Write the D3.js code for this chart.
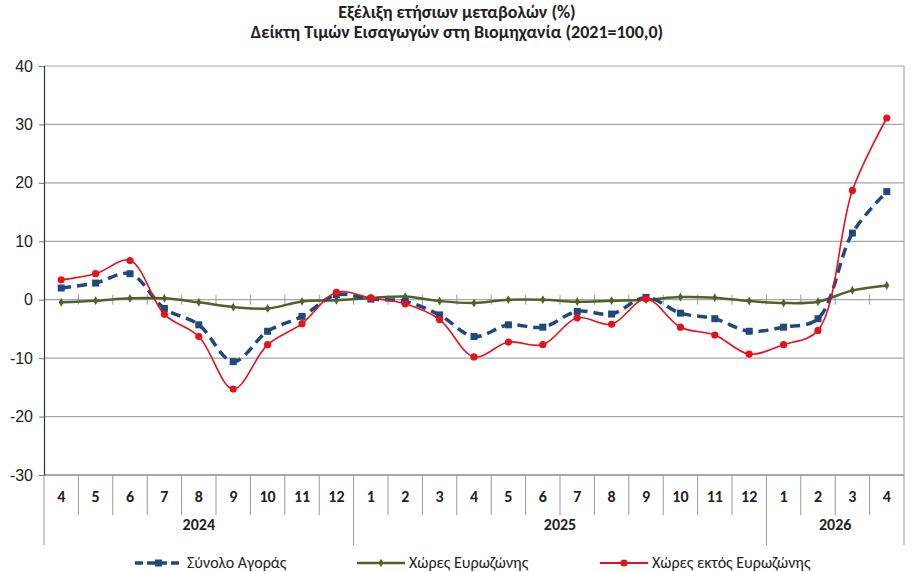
<!DOCTYPE html>
<html>
<head>
<meta charset="utf-8">
<script src="https://cdn.jsdelivr.net/npm/d3@7"></script>
<style>
  body { margin: 0; background: #fff; }
  svg { display: block; font-family: Carlito, "Liberation Sans Narrow", "Open Sans", sans-serif; }
</style>
</head>
<body>
<div id="chart"></div>
<script>
// months shown on the category axis (April 2024 .. April 2026)
const months = ["4","5","6","7","8","9","10","11","12","1","2","3","4","5","6","7","8","9","10","11","12","1","2","3","4"];
const years = [
    {label: "2024", from: 0, to: 9},
    {label: "2025", from: 9, to: 21},
    {label: "2026", from: 21, to: 25}
];
const yTicks = [40, 30, 20, 10, 0, -10, -20, -30];

const total = [2.0, 2.85, 4.45, -1.5, -4.3, -10.6, -5.4, -2.85, 0.85, 0.1, -0.3, -2.6, -6.3, -4.3, -4.7, -2.0, -2.45, 0.4, -2.3, -3.25, -5.4, -4.7, -3.25, 11.4, 18.5];
const euro = [-0.45, -0.17, 0.23, 0.23, -0.45, -1.25, -1.5, -0.3, -0.1, 0.3, 0.55, -0.23, -0.57, 0.0, 0.0, -0.34, -0.17, 0.0, 0.45, 0.34, -0.23, -0.57, -0.34, 1.6, 2.45];
const nonEuro = [3.4, 4.45, 6.7, -2.5, -6.3, -15.3, -7.7, -4.1, 1.25, 0.3, -0.7, -3.4, -9.8, -7.25, -7.7, -3.1, -4.2, 0.15, -4.7, -6.05, -9.3, -7.7, -5.25, 18.7, 31.1];

const seriesNames = ["Σύνολο Αγοράς", "Χώρες Ευρωζώνης", "Χώρες εκτός Ευρωζώνης"];

const W = 914, H = 572;
const margin = {top: 66, left: 44, right: 10, bottom: 97};
const width = W - margin.left - margin.right,
      height = H - margin.top - margin.bottom;

const svg = d3.select("#chart").append("svg")
    .attr("width", W)
    .attr("height", H);

// Title
svg.append("text")
    .attr("x", 457).attr("y", 18)
    .attr("text-anchor", "middle")
    .attr("font-size", "18px").attr("font-weight", "bold").attr("fill", "#222")
    .text("Εξέλιξη ετήσιων μεταβολών (%)");
svg.append("text")
    .attr("x", 457).attr("y", 38)
    .attr("text-anchor", "middle")
    .attr("font-size", "18px").attr("font-weight", "bold").attr("fill", "#222")
    .text("Δείκτη Τιμών Εισαγωγών στη Βιομηχανία (2021=100,0)");

const g = svg.append("g").attr("transform", `translate(${margin.left},${margin.top})`);

const x = d3.scaleBand().domain(d3.range(months.length)).range([0, width]);
const y = d3.scaleLinear().domain([-30, 40]).range([height, 0]);
const cx = i => x(i) + x.bandwidth() / 2;

// gridlines
g.append("g")
    .selectAll("line").data(yTicks).join("line")
    .attr("x1", 0).attr("x2", width)
    .attr("y1", d => y(d)).attr("y2", d => y(d))
    .attr("stroke", d => d === -30 ? "#555" : "#a6a6a6")
    .attr("stroke-width", 1.2);

// right border
g.append("line")
    .attr("x1", width).attr("x2", width).attr("y1", 0).attr("y2", height)
    .attr("stroke", "#a6a6a6").attr("stroke-width", 1.2);

// y axis
const yAxis = g.append("g")
    .call(d3.axisLeft(y).tickValues(yTicks).tickSize(5).tickPadding(6).tickFormat(d => String(d)));
yAxis.select(".domain").attr("stroke", "#333").attr("stroke-width", 1.2);
yAxis.selectAll(".tick line").attr("stroke", "#777");
yAxis.selectAll("text").attr("font-size", "16px").attr("fill", "#222").attr("font-family", "inherit");

// tick marks on the zero line, between categories
g.append("g")
    .selectAll("line").data(d3.range(1, months.length)).join("line")
    .attr("x1", d => x(d)).attr("x2", d => x(d))
    .attr("y1", y(0) - 5).attr("y2", y(0) + 5)
    .attr("stroke", "#999");

// category axis: months
const edge = i => i >= months.length ? width : x(i);
const catG = g.append("g").attr("transform", `translate(0,${height})`);
catG.selectAll("line.sep").data(d3.range(0, months.length + 1)).join("line")
    .attr("class", "sep")
    .attr("x1", d => edge(d)).attr("x2", d => edge(d))
    .attr("y1", 0).attr("y2", 40)
    .attr("stroke", "#999");
catG.selectAll("text.m").data(months).join("text")
    .attr("class", "m")
    .attr("x", (d, i) => cx(i)).attr("y", 27)
    .attr("text-anchor", "middle")
    .attr("font-size", "16px").attr("font-weight", "bold").attr("fill", "#222")
    .text(d => d);

// years row
catG.selectAll("line.ysep").data(years.map(d => d.from).concat([months.length])).join("line")
    .attr("class", "ysep")
    .attr("x1", d => edge(d)).attr("x2", d => edge(d))
    .attr("y1", 40).attr("y2", 70)
    .attr("stroke", "#999");
catG.selectAll("text.yr").data(years).join("text")
    .attr("class", "yr")
    .attr("x", d => (edge(d.from) + edge(d.to)) / 2).attr("y", 55)
    .attr("text-anchor", "middle")
    .attr("font-size", "16px").attr("font-weight", "bold").attr("fill", "#222")
    .text(d => d.label);

// lines
const line = d3.line()
    .x((d, i) => cx(i))
    .y(d => y(d))
    .curve(d3.curveCatmullRom.alpha(0.5));

const colors = ["#1f497d", "#4f6228", "#e8101a"];

g.append("path").datum(euro)
    .attr("fill", "none").attr("stroke", colors[1]).attr("stroke-width", 2.5)
    .attr("d", line);
g.selectAll("path.dm").data(euro).join("path")
    .attr("class", "dm")
    .attr("transform", (d, i) => `translate(${cx(i)},${y(d)})`)
    .attr("d", d3.symbol(d3.symbolDiamond, 22))
    .attr("fill", colors[1]);

g.append("path").datum(total)
    .attr("fill", "none").attr("stroke", colors[0]).attr("stroke-width", 3.5)
    .attr("stroke-dasharray", "10,6")
    .attr("d", line);
g.selectAll("rect.sq").data(total).join("rect")
    .attr("class", "sq")
    .attr("x", (d, i) => cx(i) - 3.5).attr("y", d => y(d) - 3.5)
    .attr("width", 7).attr("height", 7)
    .attr("fill", colors[0]);

g.append("path").datum(nonEuro)
    .attr("fill", "none").attr("stroke", colors[2]).attr("stroke-width", 1.6)
    .attr("d", line);
g.selectAll("circle.dot").data(nonEuro).join("circle")
    .attr("class", "dot")
    .attr("cx", (d, i) => cx(i)).attr("cy", d => y(d))
    .attr("r", 3.6)
    .attr("fill", colors[2]);

// legend
const legY = 563;
const leg = svg.append("g");
const legX = [135, 357, 600];
seriesNames.forEach((name, k) => {
    const lg = leg.append("g").attr("transform", `translate(${legX[k]},${legY})`);
    const ln = lg.append("line").attr("x1", 0).attr("x2", 48).attr("y1", 0).attr("y2", 0)
        .attr("stroke", colors[k]);
    if (k === 0) {
        ln.attr("stroke-width", 3.5).attr("stroke-dasharray", "8,4");
        lg.append("rect").attr("x", 20).attr("y", -3.5).attr("width", 7).attr("height", 7).attr("fill", colors[k]);
    } else if (k === 1) {
        ln.attr("stroke-width", 2.5);
        lg.append("path").attr("transform", "translate(24,0)").attr("d", d3.symbol(d3.symbolDiamond, 22)).attr("fill", colors[k]);
    } else {
        ln.attr("stroke-width", 1.8);
        lg.append("circle").attr("cx", 24).attr("r", 3.6).attr("fill", colors[k]);
    }
    lg.append("text").attr("x", 52).attr("y", 5)
        .attr("font-size", "16px").attr("fill", "#222")
        .text(name);
});
</script>
</body>
</html>
